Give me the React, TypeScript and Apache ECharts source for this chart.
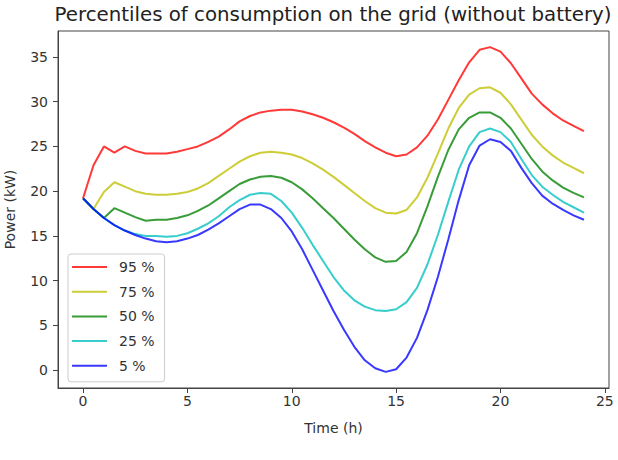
import React, { useEffect, useRef } from "react";
import * as echarts from "echarts";

const times: number[] = Array.from({ length: 49 }, (_, i) => i * 0.5);

const p95: number[] = [
  19.2, 22.9, 25.0, 24.3, 25.0, 24.5, 24.2, 24.2, 24.2, 24.4,
  24.7, 25.0, 25.5, 26.1, 26.9, 27.8, 28.4, 28.8, 29.0, 29.1,
  29.1, 28.9, 28.6, 28.2, 27.7, 27.1, 26.4, 25.6, 24.9, 24.3,
  23.9, 24.1, 24.9, 26.2, 28.0, 30.2, 32.4, 34.4, 35.8, 36.1,
  35.6, 34.3, 32.6, 30.9, 29.7, 28.7, 27.9, 27.3, 26.7,
];
const p75: number[] = [
  19.2, 18.0, 19.9, 21.0, 20.5, 20.0, 19.7, 19.6, 19.6, 19.7,
  19.9, 20.3, 20.9, 21.7, 22.5, 23.3, 23.9, 24.3, 24.4, 24.3,
  24.1, 23.7, 23.1, 22.4, 21.6, 20.7, 19.8, 18.9, 18.1, 17.6,
  17.5, 17.9, 19.3, 21.5, 24.2, 27.0, 29.3, 30.8, 31.5, 31.6,
  31.0, 29.7, 28.0, 26.3, 25.0, 24.0, 23.2, 22.6, 22.0,
];
const p50: number[] = [
  19.2, 18.0, 17.0, 18.1, 17.6, 17.1, 16.7, 16.8, 16.8, 17.0,
  17.3, 17.8, 18.4, 19.2, 20.0, 20.8, 21.3, 21.6, 21.7, 21.5,
  21.0, 20.2, 19.2, 18.1, 17.0, 15.8, 14.6, 13.5, 12.6, 12.1,
  12.2, 13.2, 15.3, 18.3, 21.6, 24.6, 26.9, 28.2, 28.8, 28.8,
  28.2, 27.0, 25.3, 23.6, 22.2, 21.2, 20.4, 19.8, 19.3,
];
const p25: number[] = [
  19.2, 18.0, 17.0, 16.2, 15.6, 15.2, 15.0, 15.0, 14.9, 15.0,
  15.3, 15.8, 16.4, 17.2, 18.2, 19.0, 19.6, 19.8, 19.7, 18.9,
  17.6, 15.9, 14.0, 12.2, 10.4, 8.9, 7.8, 7.1, 6.7, 6.6,
  6.8, 7.6, 9.2, 11.8, 15.1, 18.8, 22.4, 25.0, 26.6, 27.0,
  26.6, 25.5, 23.6, 21.8, 20.5, 19.6, 18.8, 18.2, 17.6,
];
const p5: number[] = [
  19.2, 18.0, 17.0, 16.2, 15.6, 15.1, 14.7, 14.4, 14.3, 14.4,
  14.7, 15.1, 15.7, 16.4, 17.2, 18.0, 18.5, 18.5, 18.0, 17.0,
  15.5, 13.5, 11.2, 8.9, 6.6, 4.5, 2.6, 1.1, 0.2, -0.2,
  0.1, 1.4, 3.6, 6.7, 10.4, 14.6, 19.0, 22.9, 25.1, 25.8,
  25.5, 24.5, 22.6, 20.9, 19.5, 18.6, 17.9, 17.3, 16.8,
];

const seriesNames: string[] = ["95 %", "75 %", "50 %", "25 %", "5 %"];
const seriesColors: string[] = [
  "rgba(255,0,0,0.78)",
  "rgba(191,191,0,0.78)",
  "rgba(0,128,0,0.78)",
  "rgba(0,191,191,0.78)",
  "rgba(0,0,255,0.78)",
];
const xTicks: number[] = [0, 5, 10, 15, 20, 25];
const yTicks: number[] = [0, 5, 10, 15, 20, 25, 30, 35];

const FONT = "DejaVu Sans";

export default function App() {
  const ref = useRef<HTMLDivElement>(null);
  useEffect(() => {
    document.body.style.margin = "0";
    if (!ref.current) return;
    const chart = echarts.init(ref.current, null, { renderer: "svg" });
    const allValues = [p95, p75, p50, p25, p5];
    chart.setOption({
      animation: false,
      backgroundColor: "#ffffff",
      graphic: [
        {
          type: "text",
          x: 333,
          y: 14,
          style: {
            text: "Percentiles of consumption on the grid (without battery)",
            fontFamily: FONT,
            fontSize: 19.8,
            fill: "#222",
            align: "center",
            verticalAlign: "middle",
          },
        },
      ],
      grid: {
        left: 58,
        right: 9,
        top: 31,
        bottom: 72,
        containLabel: false,
        outerBoundsMode: "none",
        show: true,
        borderColor: "#444",
        borderWidth: 1,
        backgroundColor: "transparent",
      },
      legend: {
        orient: "vertical",
        left: 68,
        top: 254,
        padding: [6, 10, 9, 4],
        itemWidth: 35,
        itemHeight: 2,
        itemGap: 10.7,
        icon: "rect",
        borderColor: "#cccccc",
        borderWidth: 1,
        borderRadius: 3,
        backgroundColor: "rgba(255,255,255,0.8)",
        textStyle: { fontFamily: FONT, fontSize: 14, lineHeight: 14, color: "#333", padding: [0, 0, 0, 7] },
        data: seriesNames,
      },
      xAxis: {
        type: "value",
        min: -1.2,
        max: 25.2,
        name: "Time (h)",
        nameLocation: "middle",
        nameGap: 33,
        nameTextStyle: { fontFamily: FONT, fontSize: 14, color: "#333" },
        axisLine: { show: true, onZero: false, lineStyle: { color: "#444", width: 1 } },
        axisTick: { show: true, length: 5, customValues: xTicks, lineStyle: { color: "#444" } },
        axisLabel: { customValues: xTicks, fontFamily: FONT, fontSize: 14, color: "#333", margin: 6 },
        splitLine: { show: false },
      },
      yAxis: {
        type: "value",
        min: -2.0,
        max: 37.9,
        name: "Power (kW)",
        nameLocation: "middle",
        nameGap: 41,
        nameTextStyle: { fontFamily: FONT, fontSize: 14, color: "#333" },
        axisLine: { show: true, onZero: false, lineStyle: { color: "#444", width: 1 } },
        axisTick: { show: true, length: 5, customValues: yTicks, lineStyle: { color: "#444" } },
        axisLabel: { customValues: yTicks, fontFamily: FONT, fontSize: 14, color: "#333", margin: 10 },
        splitLine: { show: false },
      },
      series: seriesNames.map((name, i) => ({
        name,
        type: "line",
        symbol: "none",
        smooth: false,
        color: seriesColors[i],
        lineStyle: { width: 2, color: seriesColors[i] },
        data: times.map((t, j) => [t, allValues[i][j]]),
      })),
    });
    return () => chart.dispose();
  }, []);
  return <div ref={ref} style={{ width: 618, height: 460 }} />;
}
